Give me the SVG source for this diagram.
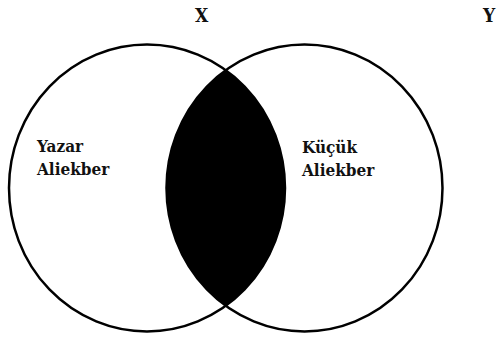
<svg xmlns="http://www.w3.org/2000/svg" width="498" height="338" viewBox="0 0 498 338">
<style>
.c{fill:none;stroke:#000;stroke-width:2.5}
text{font-family:'DejaVu Serif Condensed','DejaVu Serif',serif;font-weight:bold;fill:#111}
.lbl{font-size:17px}
.hd{font-size:19px}
</style>
<rect width="498" height="338" fill="#fff"/>
<g id="lens">
<path d="M225.75 70.1 A138 143.5 0 0 0 225.75 305.9 A138 143.5 0 0 0 225.75 70.1 Z" fill="#000"/>
</g>
<g id="setX">
<ellipse class="c" cx="147" cy="188" rx="138" ry="143.5"/>
<text class="lbl" x="37" y="152">Yazar</text>
<text class="lbl" x="37" y="175">Aliekber</text>
</g>
<g id="setY">
<ellipse class="c" cx="304.5" cy="188" rx="138" ry="143.5"/>
<text class="lbl" x="302" y="153">Küçük</text>
<text class="lbl" x="302" y="176">Aliekber</text>
</g>
<g id="labels">
<text class="hd" x="195" y="22">X</text>
<text class="hd" x="483" y="22">Y</text>
</g>
<g id="connectors"/>
</svg>
